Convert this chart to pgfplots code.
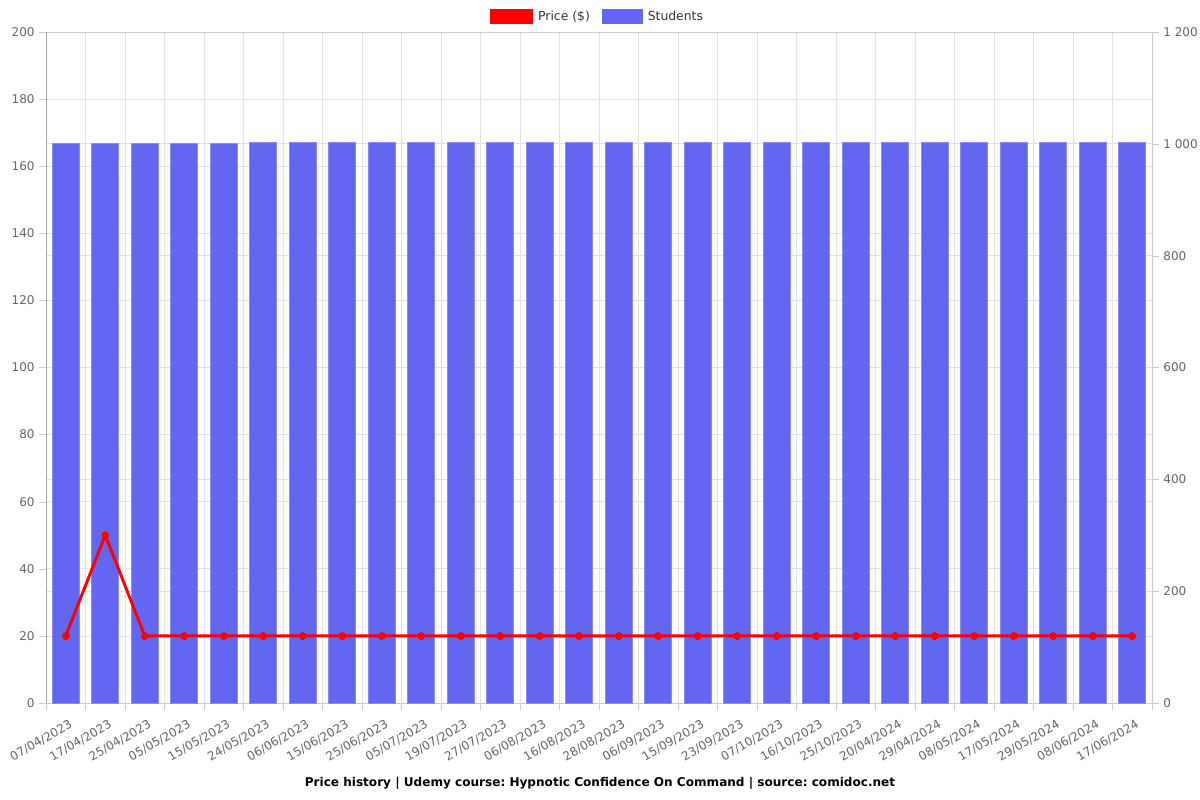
\documentclass[border=0pt]{standalone}
\usepackage{pgfplots}
\pgfplotsset{compat=1.18}
\usepackage{fontspec}
\setmainfont{DejaVu Sans}
\definecolor{barblue}{HTML}{6366F1}
\definecolor{gridgray}{HTML}{E2E2E2}
\definecolor{ticklab}{HTML}{666666}
\definecolor{axgray}{HTML}{CCCCCC}
\begin{document}
\frenchspacing
\begin{tikzpicture}[x=1pt,y=1pt]
\path[use as bounding box] (0,0) rectangle (900,600);
\begin{axis}[at={(34.5pt,72.75pt)}, anchor=south west, scale only axis,
  width=829.5pt, height=503.25pt,
  xmin=-0.5, xmax=27.5, ymin=0, ymax=1200,
  axis line style={axgray},
  /pgf/number format/assume math mode=true,
  /pgf/number format/1000 sep={\ },
  ytick={0,200,...,1200},
  yticklabel pos=right,
  ytick pos=right,
  tick align=outside,
  major tick length=5pt,
  minor tick length=5pt,
  tick style={axgray},
  ymajorgrids,
  major grid style={gridgray, line width=0.6pt},
  minor grid style={gridgray, line width=0.6pt},
  extra y ticks={120,240,360,480,600,720,840,960,1080},
  extra y tick labels={},
  extra y tick style={grid=major, tick style={draw=none}},
  xtick={0,...,27},
  xtick pos=left,
  xticklabels={07/04/2023,17/04/2023,25/04/2023,05/05/2023,15/05/2023,24/05/2023,06/06/2023,15/06/2023,25/06/2023,05/07/2023,19/07/2023,27/07/2023,06/08/2023,16/08/2023,28/08/2023,06/09/2023,15/09/2023,23/09/2023,07/10/2023,16/10/2023,25/10/2023,20/04/2024,29/04/2024,08/05/2024,17/05/2024,29/05/2024,08/06/2024,17/06/2024},
  major x tick style={draw=none},
  minor xtick={-0.5,0.5,...,27.5},
  xminorgrids,
  x tick label style={rotate=30, anchor=north east, font=\fontsize{9}{10}\selectfont, text=ticklab, inner sep=1pt, xshift=-0.5pt, yshift=-6pt},
  y tick label style={font=\fontsize{9}{10}\selectfont, text=ticklab},
  clip=false,
]
\addplot[ybar, bar width=20.25pt, fill=barblue, draw=barblue!75!white, line width=0.4pt] coordinates {
(0,1001) (1,1001) (2,1001) (3,1001) (4,1001) (5,1003) (6,1003) (7,1003) (8,1003) (9,1003)
(10,1003) (11,1003) (12,1003) (13,1003) (14,1003) (15,1003) (16,1003) (17,1003) (18,1003) (19,1003)
(20,1003) (21,1003) (22,1003) (23,1003) (24,1003) (25,1003) (26,1003) (27,1003)};
\end{axis}
\begin{axis}[at={(34.5pt,72.75pt)}, anchor=south west, scale only axis,
  width=829.5pt, height=503.25pt,
  xmin=-0.5, xmax=27.5, ymin=0, ymax=200,
  hide x axis,
  axis y line*=left,
  axis line style={axgray!80!black},
  /pgf/number format/assume math mode=true,
  ytick={0,20,...,200},
  tick align=outside,
  major tick length=5pt,
  tick style={axgray},
  y tick label style={font=\fontsize{9}{10}\selectfont, text=ticklab},
  legend style={at={(0.5,1.0233)}, anchor=center, draw=none, fill=none,
    legend columns=2, font=\fontsize{9.3}{10}\selectfont, text=black!80,
    nodes={inner xsep=4pt},
    /tikz/every even column/.append style={column sep=5pt}},
  legend cell align=left,
  clip=false,
]
\addlegendimage{legend image code/.code={\fill[red] (0pt,-5.25pt) rectangle (32pt,5.25pt);}}
\addlegendentry{Price (\$)}
\addlegendimage{legend image code/.code={\fill[barblue] (0pt,-5.25pt) rectangle (30pt,5.25pt);}}
\addlegendentry{Students}
\addplot[red, line width=2.2pt, mark=*, mark size=2.6pt, mark options={fill=red, draw=red, line width=0pt}, forget plot] coordinates {
(0,20) (1,50) (2,20) (3,20) (4,20) (5,20) (6,20) (7,20) (8,20) (9,20)
(10,20) (11,20) (12,20) (13,20) (14,20) (15,20) (16,20) (17,20) (18,20) (19,20)
(20,20) (21,20) (22,20) (23,20) (24,20) (25,20) (26,20) (27,20)};
\end{axis}
\node[font=\bfseries\fontsize{9.05}{11}\selectfont, text=black] at (450,12.75) {Price history | Udemy course: Hypnotic Confidence On Command | source: comidoc.net};
\end{tikzpicture}
\end{document}
